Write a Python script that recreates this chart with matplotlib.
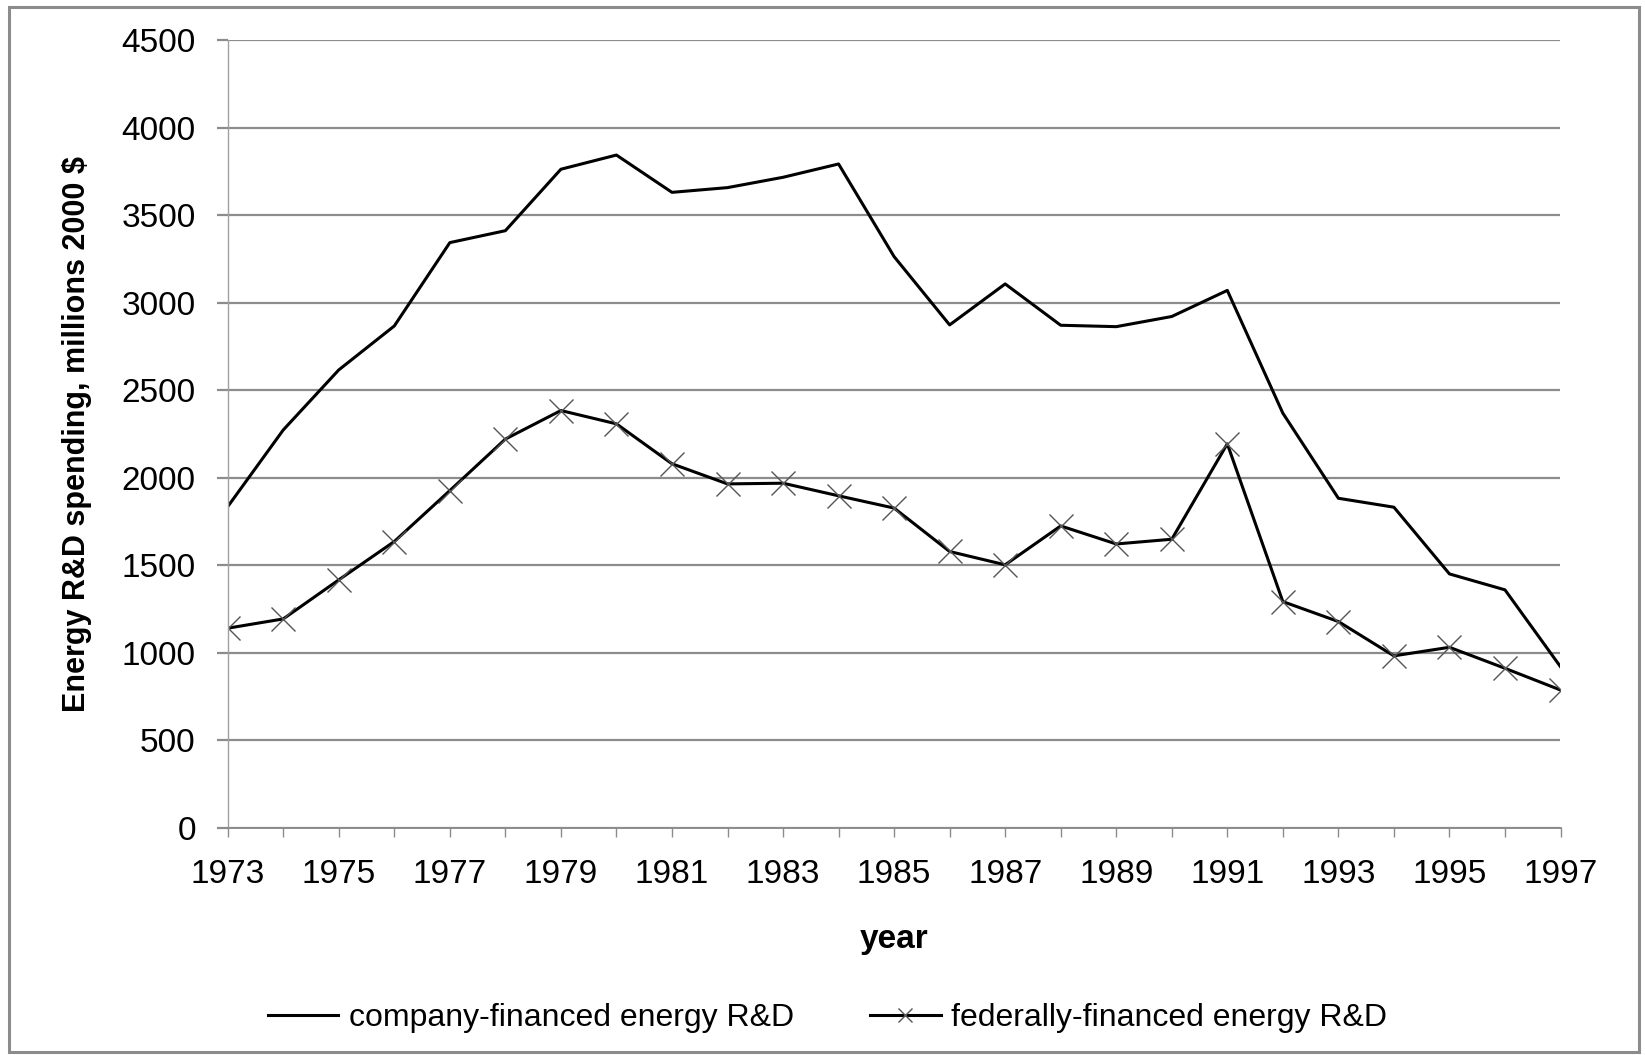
import numpy as np
import matplotlib.pyplot as plt
from matplotlib.patches import Rectangle

plt.rcParams['font.family'] = ['Liberation Sans', 'DejaVu Sans']

# values, millions of 2000 $
years = np.arange(1973, 1998)
company = [1835, 2273, 2616, 2867, 3343, 3411, 3762, 3843, 3630, 3657,
           3716, 3792, 3263, 2873, 3107, 2871, 2863, 2921, 3070, 2369,
           1883, 1832, 1451, 1360, 921]
federal = [1141, 1194, 1417, 1636, 1927, 2221, 2384, 2308, 2080, 1965,
           1969, 1897, 1827, 1579, 1503, 1725, 1622, 1649, 2194, 1293,
           1179, 983, 1032, 912, 788]
yticks = np.arange(0, 4501, 500)
xlabels = np.arange(1973, 1998, 2)

W, H = 1645, 1055
fig = plt.figure(figsize=(W/100, H/100), dpi=100)
ax = fig.add_axes([227.7/W, 1-828/H, (1560.5-227.7)/W, (828-40)/H])

# outer chart frame
fig.patches.append(Rectangle((9/W, 3/H), 1630/W, 1045/H, transform=fig.transFigure,
                             fill=False, edgecolor='#8c8c8c', linewidth=2.2))

l1, = ax.plot(years, company, color='black', lw=2.2,
              label='company-financed energy R&D')
l2, = ax.plot(years, federal, color='black', lw=2.2, marker='x', ms=17,
              mec='#555555', mew=1.0, label='federally-financed energy R&D')

ax.set_xlim(1973, 1997)
ax.set_ylim(0, 4500)
ax.set_yticks(yticks)
ax.set_xticks(years, minor=True)
ax.set_xticks(xlabels)
ax.grid(axis='y', color='#8c8c8c', lw=1.6)
ax.set_axisbelow(True)
for s in ['top', 'right']:
    ax.spines[s].set_visible(False)
ax.spines['left'].set_color('#a0a0a0')
ax.spines['left'].set_linewidth(1.0)
ax.spines['bottom'].set_color('#8c8c8c')
ax.spines['bottom'].set_linewidth(1.4)
ax.tick_params(axis='x', which='both', color='#8c8c8c', width=1.0,
               length=6.5, labelsize=24, pad=16)
ax.tick_params(axis='y', color='#8c8c8c', width=1.6, length=8,
               labelsize=24, pad=15)

ax.set_ylabel('Energy R&D spending, millions 2000 $', fontsize=22,
              fontweight='bold')
ax.yaxis.set_label_coords(-0.1018, 0.5)
ax.set_xlabel('year', fontsize=24, fontweight='bold', va='center')
ax.xaxis.set_label_coords(0.5, -0.142)

fig.legend(handles=[l1, l2], loc='center', bbox_to_anchor=(0.503, 1-1018/H),
           ncol=2, frameon=False, fontsize=23, handlelength=2.2,
           handletextpad=0.33, columnspacing=2.4, markerscale=0.6)

fig.savefig('out.png', dpi=100)
